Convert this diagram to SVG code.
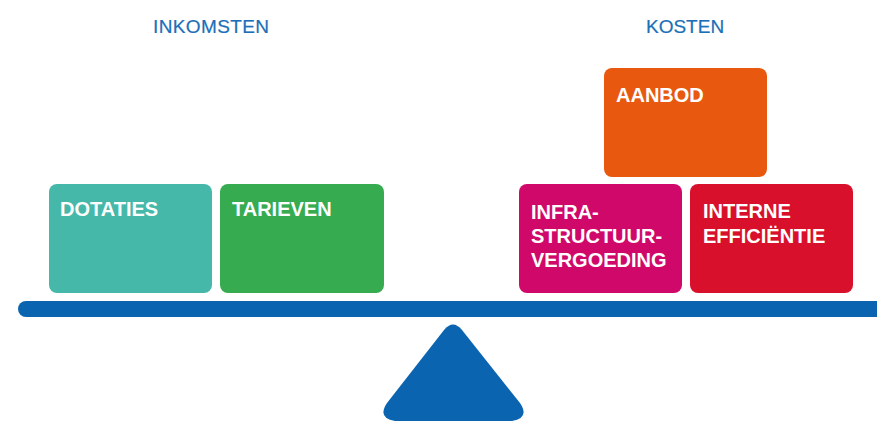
<svg xmlns="http://www.w3.org/2000/svg" width="877" height="421" viewBox="0 0 877 421">
<style>
.head{font-family:"Liberation Sans",Arial,sans-serif;font-size:19px;fill:#1a6fb8;stroke:#1a6fb8;stroke-width:0.2}
.lbl{font-family:"Liberation Sans",Arial,sans-serif;font-size:20px;font-weight:bold;fill:#ffffff}
.box{rx:8;ry:8}
</style>
<rect width="877" height="421" fill="#ffffff"/>
<g id="heading-inkomsten"><text class="head" x="153" y="33" textLength="116">INKOMSTEN</text></g>
<g id="heading-kosten"><text class="head" x="646" y="33">KOSTEN</text></g>
<g id="dotaties">
<rect class="box" x="49" y="184" width="163" height="109" fill="#46b8a9"/>
<text class="lbl" x="60" y="216">DOTATIES</text>
</g>
<g id="tarieven">
<rect class="box" x="220" y="184" width="164" height="109" fill="#36ab4f"/>
<text class="lbl" x="232" y="216">TARIEVEN</text>
</g>
<g id="aanbod">
<rect class="box" x="604" y="68" width="163" height="109" fill="#e8580f"/>
<text class="lbl" x="616" y="102">AANBOD</text>
</g>
<g id="infrastructuurvergoeding">
<rect class="box" x="519" y="184" width="163" height="109" fill="#d0086a"/>
<text class="lbl" x="531" y="219">INFRA-</text>
<text class="lbl" x="531" y="243">STRUCTUUR-</text>
<text class="lbl" x="531" y="267">VERGOEDING</text>
</g>
<g id="interne-efficientie">
<rect class="box" x="690" y="184" width="163" height="109" fill="#d9102b"/>
<text class="lbl" x="703" y="218">INTERNE</text>
<text class="lbl" x="703" y="243">EFFICIËNTIE</text>
</g>
<g id="balance">
<rect x="18" y="301" width="880" height="16" rx="8" ry="8" fill="#0a64b0"/>
<path d="M444,330 Q453,319 462,330 L520,403 Q530,418 512,421 L395,421 Q377,418 387,403 Z" fill="#0a64b0"/>
</g>
<g id="connectors"></g>
</svg>
